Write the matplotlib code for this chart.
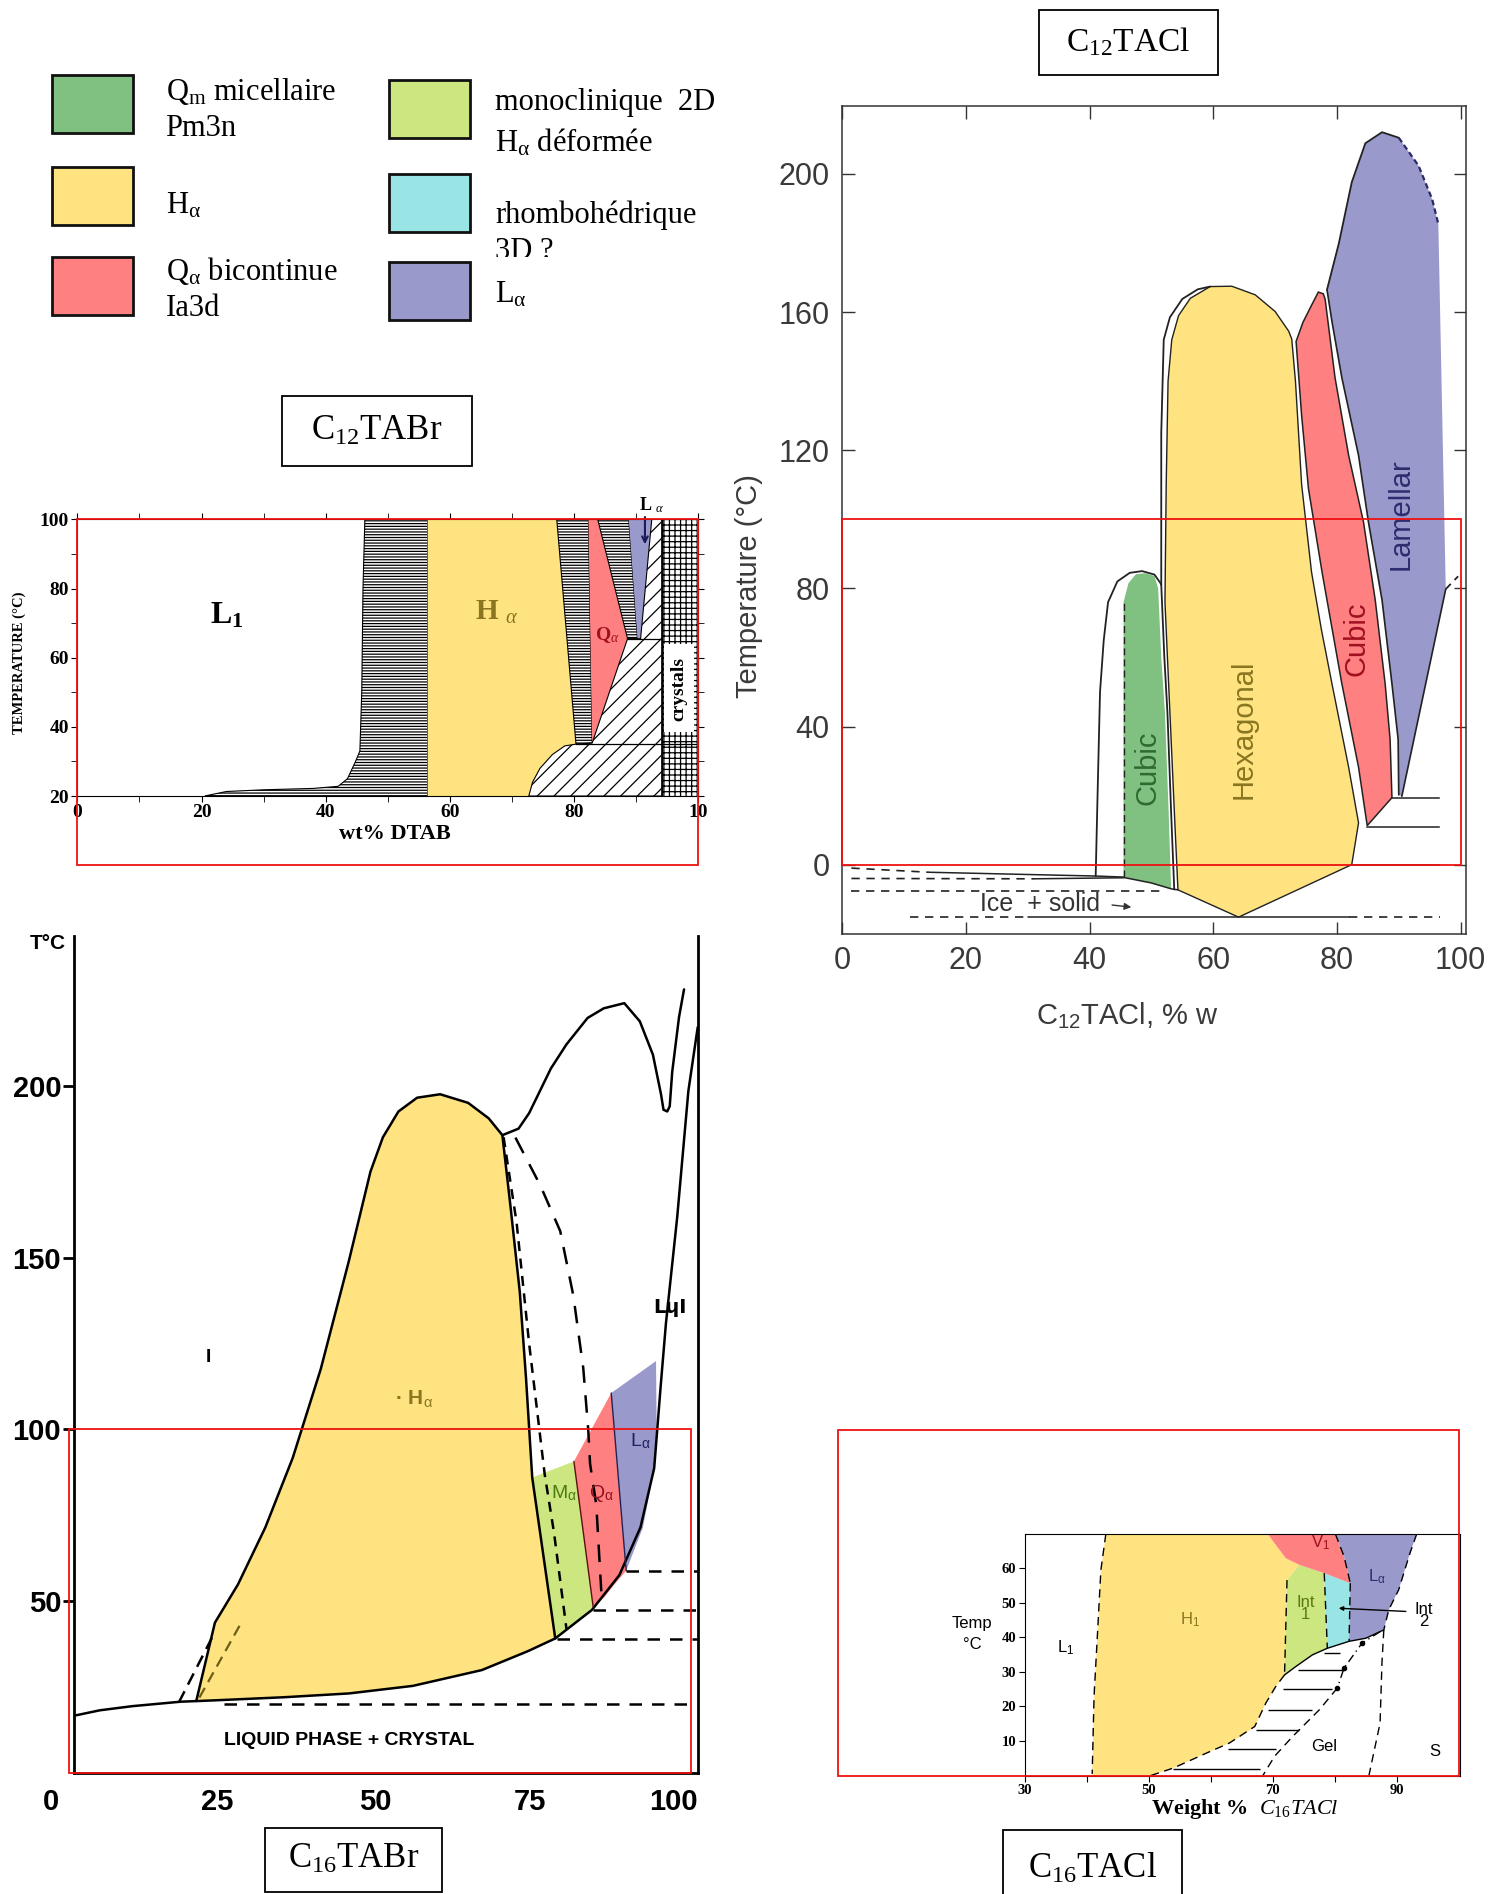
import matplotlib
matplotlib.use("Agg")
import matplotlib.pyplot as plt
from matplotlib.patches import Polygon, Rectangle
from matplotlib.transforms import Bbox, TransformedBbox

plt.rcParams["mathtext.fontset"] = "custom"
plt.rcParams["mathtext.rm"] = "Liberation Serif"
plt.rcParams["mathtext.it"] = "Liberation Serif:italic"
plt.rcParams["mathtext.bf"] = "Liberation Serif:bold"
plt.rcParams["mathtext.sf"] = "Liberation Sans"
plt.rcParams["hatch.linewidth"] = 0.9

# layout grid: the reference at its reduced size
W, H = 1244, 1568

GREEN, YELLOW, RED = "#80c080", "#ffe381", "#ff8080"
LGREEN, CYAN, PURPLE = "#cce680", "#99e4e4", "#9999cc"

# ---- legend ----
legend_colors = [GREEN, YELLOW, RED, LGREEN, CYAN, PURPLE]
legend_texts = [
    ["Q$_\\mathrm{m}$ micellaire", "Pm3n"],
    ["H$_\\mathrm{α}$"],
    ["Q$_\\mathrm{α}$ bicontinue", "Ia3d"],
    ["monoclinique  2D", "H$_\\mathrm{α}$ déformée"],
    ["rhombohédrique", "3D ?"],
    ["L$_\\mathrm{α}$"],
]

# ---- C12TABr (wt%, T) ----
br12_ticks = [0, 20, 40, 60, 80, 100]
br12_ticklabels = ["0", "20", "40", "60", "80", "10"]
br12_l1h = [(20.5, 20), (24, 21.3), (30, 21.8), (38, 22.2), (42, 22.8), (43.5, 25), (44.8, 30),
            (45.5, 33), (45.8, 50), (46, 80), (46.3, 100), (56.4, 100), (56.4, 20)]
br12_hex = [(56.4, 20), (72.7, 20), (73.3, 24), (74.5, 28), (76.5, 32), (78.5, 34.5), (80.3, 35),
            (77.2, 100), (56.4, 100)]
br12_hq = [(77.2, 100), (82.3, 100), (82.9, 35.3), (80.3, 35)]
br12_cub = [(82.3, 100), (83.8, 100), (88.6, 65.5), (82.9, 35.3)]
br12_ql = [(83.8, 100), (88.8, 100), (90.2, 65.5), (88.6, 65.5)]
br12_lam = [(88.8, 100), (92.5, 100), (90.7, 65.5), (90.2, 65.5)]
br12_diag = [(72.7, 20), (94.1, 20), (94.1, 100), (92.5, 100), (90.7, 65.5), (88.6, 65.5),
             (82.9, 35.3), (80.3, 35), (78.5, 34.5), (76.5, 32), (74.5, 28), (73.3, 24)]
br12_cryst = [(94.1, 20), (100, 20), (100, 100), (94.1, 100)]
br12_hlines = [(35, 80.3, 100), (65.5, 88.6, 94.1)]

# ---- C12TACl ----
cl12_l1 = [(41, -3.3), (41.3, 20), (41.7, 50), (42.3, 65), (43, 76), (44.5, 82), (46.5, 84.5),
           (48.5, 85), (50.5, 84), (51.6, 81.2)]
cl12_qm = [(45.5, -3.6), (45.5, 76), (46.3, 81.5), (47.5, 84.1), (49, 84.4), (50.5, 83.6),
           (51.1, 80), (51.6, 60), (52.2, 44), (52.8, 15), (53.2, -7), (50, -5.4)]
cl12_qm_edge = [(51.6, 81), (52.1, 60), (52.6, 44), (53.2, 15), (53.7, -7.2)]
cl12_outer = [(51.6, 81), (51.6, 125), (52.0, 152), (53.0, 158.5), (55.0, 163.8), (57.5, 166.6),
              (59.5, 167.4)]
cl12_hex = [(54.3, -7.3), (53.8, 12), (53, 44), (52.2, 76), (52.4, 110), (52.7, 140),
            (53.3, 152), (54.4, 159), (56.3, 164), (59.5, 167.4), (63, 167.5), (66.8, 165),
            (70, 160.2), (72.2, 154.5), (72.7, 152.2), (73.3, 140), (74.3, 110), (75.9, 84.7),
            (77.5, 68), (79.2, 52.4), (81.9, 28.2), (83.5, 12.1), (82.4, 0), (64.1, -15.2)]
cl12_cub = [(73.4, 151.5), (74.5, 157), (75.9, 162), (77, 165.8), (77.8, 165.3), (78.1, 163.7),
            (79.7, 141), (81.9, 118.5), (84.3, 99.2), (86.2, 76.6), (87.8, 52.4), (88.6, 36.3),
            (88.9, 19.4), (84.9, 11.3), (83.5, 28.2), (80.8, 52.4), (77.6, 84.7), (75.4, 108.9),
            (74.3, 130)]
cl12_lam = [(78.4, 166.5), (80.3, 179.8), (82.4, 197.6), (84.6, 208.9), (87.3, 212.1),
            (90, 210.5), (93.2, 202.4), (95.4, 192.7), (96.4, 185.5), (97.6, 79.8), (90.5, 19.8),
            (90.0, 20.2), (89.9, 36.3), (88.9, 52.4), (87.3, 76.6), (85.1, 99.2), (83.5, 118.5),
            (80.8, 141), (79.2, 157.3)]
cl12_right_dash = [(97.6, 79.8), (99.6, 83.5)]
cl12_hlines = [(19.2, 88.9, 96.5), (11.0, 84.9, 96.5), (0, 82.4, 96.5)]
cl12_solid_low = [[(14, -2.2), (41, -3.3), (45.5, -3.6)],
                  [(31, -4.1), (45.5, -3.8)],
                  [(45.5, -3.7), (50, -5.3), (53.2, -7), (54.3, -7.3)],
                  [(30, -15.2), (82, -15.2)]]
cl12_dash_low = [[(1.5, -1.0), (14, -2.2)],
                 [(1.5, -4.0), (31, -4.1)],
                 [(1.5, -7.6), (52, -7.6)],
                 [(11, -15.2), (30, -15.2)],
                 [(82, -15.2), (96.6, -15.2)]]

# ---- C16TABr ----
br16_hex = [(20.5, 21), (23.5, 43.8), (27.2, 54.9), (31.6, 71.5), (36, 91.7), (40.5, 117.5),
            (45, 148.8), (48.5, 175), (50.5, 185), (53, 192.5), (56, 196.5), (59.7, 197.5),
            (64.2, 195), (67.5, 190.5), (69.7, 185.6), (71, 165), (72.5, 140), (73.5, 115),
            (74.5, 86), (78.2, 39.2), (73.8, 35.5), (66.4, 30), (55.3, 25.4), (45, 23.2),
            (34.6, 22.1), (23.5, 21.2)]
br16_mono = [(74.5, 86), (81.2, 90.7), (84.3, 48.3), (82, 44.5), (80, 41.5), (78.2, 39.2)]
br16_cub = [(81.2, 90.7), (87.2, 110.6), (89.6, 58.9), (88, 55.5), (86, 51), (84.3, 48.3)]
br16_lam = [(87.2, 110.6), (94.4, 119.9), (94.5, 99.3), (94.1, 88.7), (92.3, 71.5), (89.6, 58.9)]
br16_solidus = [(0.8, 16.7), (5, 18.3), (10.2, 19.5), (18, 20.8), (23.5, 21.2), (34.6, 22.1),
                (45, 23.2), (55.3, 25.4), (66.4, 30), (73.8, 35.5), (78.2, 39.2), (84.1, 47.5),
                (88.5, 57.6), (91.9, 71.5), (94.1, 88.7), (95.2, 113.8), (96, 131), (97.8, 161.7),
                (99.6, 198.5), (101.1, 217)]
br16_upper = [(69.7, 185.6), (72.3, 187.5), (74, 192), (77.5, 205), (80, 212), (83.4, 219.7),
              (86, 222.5), (89.3, 224), (91.8, 218.7), (93.9, 209), (95.2, 197.5), (95.6, 193),
              (96.2, 192.5), (96.6, 194), (97, 204), (98.1, 220), (98.9, 228)]
br16_dash1 = [(69.9, 185), (72, 160), (74, 125), (76.5, 87), (78, 70), (80, 42)]
br16_dash2 = [(71.8, 184.9), (75.8, 171), (79, 157.7), (81.1, 139), (82.7, 117.9), (83.5, 100),
              (83.8, 90), (84.8, 78), (85.6, 52.9)]
br16_dash_left = [(17.7, 20.6), (23.3, 40.4)]
br16_dash_inner = [(21, 22), (27.8, 44)]
br16_hlines = [(58.9, 89.6, 101), (47.5, 84.3, 101), (39, 78.5, 101), (20, 25, 100.5)]
br16_yticks = [50, 100, 150, 200]
br16_xticklabels = ["0", "25", "50", "75", "100"]

# ---- C16TACl ----
cl16_hex = [(43.1, 69.8), (69.2, 69.8), (72.1, 62.8), (74.3, 60.9), (72.3, 56.5), (71.9, 29.1),
            (70.5, 25.8), (68.9, 21), (67.1, 14.2), (65, 11.5), (63, 9.4), (59.3, 6.5),
            (54, 2.2), (50.3, 0), (40.9, 0), (41.2, 22.9), (41.7, 39.2), (42.3, 59.4)]
cl16_int1 = [(74.3, 60.9), (78.3, 58.5), (78.8, 36.8), (76.4, 34.9), (73.7, 31.5), (71.9, 29.1),
             (72.3, 56.5)]
cl16_int2 = [(78.3, 58.5), (82.5, 55.6), (82.3, 38.8), (78.8, 36.8)]
cl16_v1 = [(69.2, 69.8), (80.1, 69.8), (81.5, 63.3), (82.5, 55.6), (78.3, 58.5), (74.3, 60.9),
           (72.1, 62.8)]
cl16_lam = [(80.1, 69.8), (93.2, 69.8), (92.1, 64.2), (90.3, 53.7), (88.7, 47.9), (87.9, 42.1),
            (85, 39.7), (82.3, 38.8), (82.5, 55.6), (81.5, 63.3)]
cl16_dashed = [
    [(43.1, 69.8), (42.3, 59.4), (41.7, 39.2), (41.2, 22.9), (40.9, 0.5)],
    [(80.1, 69.8), (81.5, 63.3), (82.5, 55.6)],
    [(78.3, 58.5), (78.8, 36.8)],
    [(82.5, 55.6), (82.3, 38.8)],
    [(72.3, 56.5), (71.9, 29.1)],
    [(93.2, 69.8), (92.1, 64.2), (90.3, 53.7), (88.7, 47.9), (87.9, 42.1)],
    [(71.9, 29.1), (70.5, 25.8), (68.9, 21), (67.1, 14.2), (63, 9.4), (59.3, 6.5), (54, 2.2),
     (50.3, 0)],
    [(87.9, 42.1), (87.6, 32.5), (87.3, 15.2), (85.5, 0)],
    [(80.4, 25.3), (77.5, 19), (73.2, 11.3), (70.3, 5.6), (68.4, 0)],
]
cl16_gel_top = [(71.9, 29.1), (73.7, 31.5), (76.4, 34.9), (78.8, 36.8), (82.3, 38.8), (85, 39.7),
                (87.9, 42.1)]
cl16_dashdot = [(87.3, 41.6), (84.4, 38.3), (81.5, 31.1), (80.4, 25.3)]
cl16_dots = [(84.4, 38.3), (81.5, 31.1), (80.4, 25.3)]
hatch_T = [35.4, 30.6, 25, 19, 13.3, 7.7, 1.9]
hatch_x0 = [78.3, 74, 71.6, 69.2, 67.3, 62.8, 54]
hatch_x1 = [80.9, 81.5, 79.6, 76.4, 74.3, 70.5, 67.9]


def make_axes(fig, left, top, right, bottom):
    return fig.add_axes([left / W, 1 - bottom / H, (right - left) / W, (bottom - top) / H])


def region(ax, pts, color, **kw):
    ax.add_patch(Polygon(pts, closed=True, facecolor=color, edgecolor=kw.pop("ec", "none"),
                         lw=kw.pop("lw", 1.0), **kw))


def curve(ax, pts, **kw):
    xs, ys = zip(*pts)
    ax.plot(xs, ys, solid_capstyle="round", **kw)


def red_frame(ax):
    ax.add_patch(Rectangle((0, 0), 100, 100, fill=False, ec="#ee1111", lw=1.3,
                           clip_on=False, zorder=20))


def title_box(fig, text, left, top, right, bottom, size=25):
    fig.add_artist(Rectangle((left / W, 1 - bottom / H), (right - left) / W, (bottom - top) / H,
                             transform=fig.transFigure, fill=False, ec="black", lw=1.3))
    fig.text((left + right) / 2 / W, 1 - (top + bottom) / 2 / H, text, ha="center",
             va="center", fontsize=size, family="Liberation Serif")


fig = plt.figure(figsize=(15.03, 18.94), dpi=100)

# ---------------- legend ----------------
swatches = [(43, 62), (43, 138), (43, 213), (322, 66), (322, 144), (322, 217)]
text_y = [[76, 106], [170], [224, 255], [85, 118], [178, 208], [244]]
for i, color in enumerate(legend_colors):
    sx, sy = swatches[i]
    fig.add_artist(Rectangle((sx / W, 1 - (sy + 48) / H), 67 / W, 48 / H,
                             transform=fig.transFigure, fc=color, ec="#111111", lw=2))
    tx = 137 if i < 3 else 410
    for line_text, ty in zip(legend_texts[i], text_y[i]):
        t = fig.text(tx / W, 1 - ty / H, line_text, ha="left", va="center", fontsize=22,
                     family="Liberation Serif")
        if line_text == "3D ?":
            t.set_clip_box(TransformedBbox(Bbox([[0, 1 - 213 / H], [1, 1]]), fig.transFigure))
            t.set_clip_on(True)

title_box(fig, "C$_\\mathrm{12}$TABr", 233, 328, 391, 386)
title_box(fig, "C$_\\mathrm{12}$TACl", 860, 8, 1008, 62, size=24)
title_box(fig, "C$_\\mathrm{16}$TABr", 219, 1513, 366, 1566)
title_box(fig, "C$_\\mathrm{16}$TACl", 830, 1515, 978, 1580)

# ---------------- C12TABr ----------------
ax1 = make_axes(fig, 64, 430, 578, 659)
ax1.set_xlim(0, 100)
ax1.set_ylim(20, 100)
region(ax1, br12_l1h, "white", ec="black", hatch="------", lw=0.8)
region(ax1, br12_hex, YELLOW)
region(ax1, br12_hq, "white", ec="black", hatch="------", lw=0.8)
region(ax1, br12_cub, RED)
region(ax1, br12_ql, "white", ec="black", hatch="------", lw=0.8)
region(ax1, br12_lam, PURPLE)
region(ax1, br12_diag, "white", ec="black", hatch="//", lw=0.8)
region(ax1, br12_cryst, "white", ec="black", hatch="+++", lw=0.8)
for T, x0, x1 in br12_hlines:
    ax1.plot([x0, x1], [T, T], color="black", lw=0.9)
ax1.add_patch(Rectangle((94.5, 38.5), 4.8, 25.5, fc="white", ec="none", zorder=3))
ax1.text(96.9, 51, "crystals", rotation=90, ha="center", va="center", fontsize=14,
         fontweight="bold", family="Liberation Serif", zorder=4)
ax1.text(24, 72, "L$_\\mathbf{1}$", fontsize=23, fontweight="bold", family="Liberation Serif",
         ha="center", va="center")
ax1.text(67.5, 73, "H $_{\\alpha}$", fontsize=21, fontweight="bold", family="Liberation Serif",
         ha="center", va="center", color="#8a7620")
ax1.text(85.3, 66.5, "Q$_{\\alpha}$", fontsize=14, fontweight="bold", family="Liberation Serif",
         ha="center", va="center", color="#a01020")
ax1.text(92.5, 104, "L $_{\\alpha}$", fontsize=13, fontweight="bold", family="Liberation Serif",
         ha="center", va="center", clip_on=False)
ax1.annotate("", xy=(91.4, 92), xytext=(91.4, 101.5), annotation_clip=False,
             arrowprops=dict(arrowstyle="->", color="#1a1a5a", lw=1.5))
ax1.set_xticks(br12_ticks, br12_ticklabels)
ax1.set_yticks([20, 40, 60, 80, 100])
ax1.set_xticks(range(10, 100, 20), minor=True)
ax1.set_yticks([30, 50, 70, 90], minor=True)
ax1.tick_params(which="both", direction="out", top=True, right=True, length=4, labelsize=14,
                pad=2)
plt.setp(ax1.get_xticklabels() + ax1.get_yticklabels(), fontweight="bold",
         family="Liberation Serif")
ax1.set_xlabel("wt% DTAB", fontsize=16, fontweight="bold", family="Liberation Serif")
ax1.xaxis.set_label_coords(0.512, -0.1)
ax1.set_ylabel("TEMPERATURE (°C)", fontsize=10.5, fontweight="bold", family="Liberation Serif")
ax1.yaxis.set_label_coords(-0.083, 0.48)
red_frame(ax1)

# ---------------- C12TACl ----------------
ax2 = make_axes(fig, 697, 88, 1213, 773)
ax2.set_xlim(0, 100.8)
ax2.set_ylim(-20, 219.6)
ink = "#222222"
region(ax2, cl12_qm, GREEN)
region(ax2, cl12_hex, YELLOW, ec=ink, lw=1.0)
region(ax2, cl12_cub, RED, ec=ink, lw=1.1)
region(ax2, cl12_lam, PURPLE)
curve(ax2, cl12_lam[:6], color=ink, lw=1.3)
curve(ax2, cl12_lam[5:9], color="#2a2a66", lw=1.6, ls=(0, (2.5, 1.5)))
curve(ax2, cl12_lam[9:11], color=ink, lw=1.2)
curve(ax2, cl12_lam[11:] + cl12_lam[:1], color=ink, lw=1.2)
curve(ax2, cl12_l1, color=ink, lw=1.3)
curve(ax2, cl12_qm_edge, color=ink, lw=1.3)
curve(ax2, cl12_outer, color=ink, lw=1.3)
curve(ax2, cl12_right_dash, color=ink, lw=1.3, ls=(0, (4, 3)))
for T, x0, x1 in cl12_hlines:
    ax2.plot([x0, x1], [T, T], color=ink, lw=1.1)
for pts in cl12_solid_low:
    curve(ax2, pts, color=ink, lw=1.1)
for pts in cl12_dash_low:
    curve(ax2, pts, color=ink, lw=1.2, ls=(0, (5, 4)))
ax2.plot([45.5, 45.5], [-3.6, 76], color=ink, lw=1.0, ls=(0, (5, 3)))
ax2.text(32, -11.3, "Ice  + solid", fontsize=18, ha="center", va="center",
         family="Liberation Sans", color="#333333")
ax2.annotate("", xy=(47.2, -12.4), xytext=(43.2, -11.6),
             arrowprops=dict(arrowstyle="-|>", color="#333333", lw=1.0, mutation_scale=10))
sans = dict(family="Liberation Sans", ha="center", va="center", rotation=90)
ax2.text(49.3, 28, "Cubic", fontsize=21, color="#2f6a2f", **sans)
ax2.text(64.9, 39.2, "Hexagonal", fontsize=21, color="#8a7620", **sans)
ax2.text(83.2, 65.3, "Cubic", fontsize=21, color="#a01020", **sans)
ax2.text(90.3, 101.6, "Lamellar", fontsize=21, color="#2c2c6e", **sans)
ax2.set_xticks(range(0, 101, 20))
ax2.set_yticks(range(0, 201, 40))
ax2.tick_params(direction="in", top=True, right=True, length=9, width=1.0, labelsize=22,
                labelcolor="#3a3a3a", color="#333333", pad=9)
plt.setp(ax2.get_xticklabels() + ax2.get_yticklabels(), family="Liberation Sans")
for sp in ax2.spines.values():
    sp.set_color("#333333")
    sp.set_linewidth(1.1)
ax2.set_xlabel("C$_{\\mathsf{12}}$TACl, % w", fontsize=21, family="Liberation Sans",
               color="#3a3a3a")
ax2.xaxis.set_label_coords(0.457, -0.081)
ax2.set_ylabel("Temperature (°C)", fontsize=21, family="Liberation Sans", color="#3a3a3a")
ax2.yaxis.set_label_coords(-0.127, 0.42)
red_frame(ax2)

# ---------------- C16TABr ----------------
ax3 = make_axes(fig, 61, 775, 578, 1468)
ax3.set_xlim(0.8, 101.2)
ax3.set_ylim(0, 243.5)
region(ax3, br16_hex, YELLOW)
region(ax3, br16_mono, LGREEN)
region(ax3, br16_cub, RED)
region(ax3, br16_lam, PURPLE)
curve(ax3, br16_hex[:20], color="black", lw=1.8)
curve(ax3, br16_solidus, color="black", lw=1.8)
curve(ax3, br16_upper, color="black", lw=1.8)
curve(ax3, br16_dash1, color="black", lw=1.8, ls=(0, (4, 3)))
curve(ax3, br16_dash2, color="black", lw=1.8, ls=(0, (7, 5)))
curve(ax3, br16_dash_left, color="black", lw=1.8, ls=(0, (5, 3)))
curve(ax3, br16_dash_inner, color="#6b5e18", lw=1.6, ls=(0, (5, 3)))
curve(ax3, br16_mono[1:3], color="#5a1010", lw=1.0)
curve(ax3, [br16_cub[1], br16_cub[2]], color="#222255", lw=1.0)
for T, x0, x1 in br16_hlines:
    ax3.plot([x0, x1], [T, T], color="black", lw=1.8, ls=(0, (5, 4)))
ax3.text(45, 9.5, "LIQUID PHASE + CRYSTAL", fontsize=14, fontweight="bold",
         family="Liberation Sans", ha="center", va="center")
ax3.text(55.5, 109, "· H$_\\mathsf{α}$", fontsize=15, fontweight="bold", color="#8a7620",
         family="Liberation Sans", ha="center", va="center")
ax3.text(22.4, 121, "I", fontsize=14, fontweight="bold", family="Liberation Sans",
         ha="center", va="center")
ax3.text(96.7, 135.6, "LɥI", fontsize=14, fontweight="bold", family="DejaVu Sans",
         ha="center", va="center")
ax3.text(79.6, 81.4, "M$_\\mathsf{α}$", fontsize=14, color="#4c7a10", family="Liberation Sans",
         ha="center", va="center")
ax3.text(85.6, 81.4, "Q$_\\mathsf{α}$", fontsize=14, color="#901020", family="Liberation Sans",
         ha="center", va="center")
ax3.text(91.8, 96.7, "L$_\\mathsf{α}$", fontsize=14, color="#202060", family="Liberation Sans",
         ha="center", va="center")
ax3.text(-3.3, 241.5, "T°C", fontsize=15, fontweight="bold", family="Liberation Sans",
         ha="center", va="center", clip_on=False)
# the scanned axis numbers sit slightly left of their true positions
for label, lx in zip(br16_xticklabels, [-2.9, 23.8, 49.3, 74.2, 97.2]):
    ax3.text(lx, -8.5, label, fontsize=21, fontweight="bold", family="Liberation Sans",
             ha="center", va="center", clip_on=False)
ax3.spines["top"].set_visible(False)
for sp in ("left", "right", "bottom"):
    ax3.spines[sp].set_linewidth(2.0)
ax3.set_yticks(br16_yticks)
ax3.set_xticks([])
ax3.tick_params(axis="y", direction="out", length=8, width=2, labelsize=21, pad=1)
plt.setp(ax3.get_yticklabels(), fontweight="bold", family="Liberation Sans")
red_frame(ax3)

# ---------------- C16TACl ----------------
ax4 = make_axes(fig, 848, 1270, 1208, 1470)
ax4.set_xlim(30, 100.1)
ax4.set_ylim(0, 69.8)
region(ax4, cl16_hex, YELLOW)
region(ax4, cl16_int1, LGREEN)
region(ax4, cl16_int2, CYAN)
region(ax4, cl16_v1, RED)
region(ax4, cl16_lam, PURPLE)
for pts in cl16_dashed:
    curve(ax4, pts, color="black", lw=1.0, ls=(0, (6, 4)))
curve(ax4, cl16_gel_top, color="black", lw=1.0)
curve(ax4, cl16_dashdot, color="black", lw=1.0, ls=(0, (6, 3, 1, 3)))
dx, dy = zip(*cl16_dots)
ax4.plot(dx, dy, "o", color="black", ms=3)
ax4.hlines(hatch_T, hatch_x0, hatch_x1, color="black", lw=1.0)
ax4.annotate("", xy=(80.2, 48.4), xytext=(91.9, 47.4),
             arrowprops=dict(arrowstyle="-|>", color="black", lw=1.0, mutation_scale=6))
txt = dict(family="Liberation Sans", ha="center", va="center", fontsize=12)
ax4.text(36.7, 36.8, "L$_\\mathsf{1}$", **txt)
ax4.text(56.7, 45, "H$_\\mathsf{1}$", color="#8a7620", **txt)
ax4.text(75.3, 48.4, "Int\n1", color="#5a7a10", linespacing=0.75, **txt)
ax4.text(94.3, 46.4, "Int\n2", linespacing=0.75, **txt)
ax4.text(86.8, 57.5, "L$_\\mathsf{α}$", color="#2c2c6e", **txt)
ax4.text(77.7, 67.2, "V$_\\mathsf{1}$", color="#a01020", **txt)
ax4.text(78.3, 8.5, "Gel", **txt)
ax4.text(96.1, 7, "S", **txt)
ax4.text(21.6, 44, "Temp", clip_on=False, **txt)
ax4.text(21.6, 38, "°C", clip_on=False, **txt)
ax4.set_yticks(range(10, 61, 10))
ax4.set_xticks(range(30, 100, 10))
ax4.set_xticklabels(["30", "", "50", "", "70", "", "90"])
ax4.tick_params(direction="out", length=4, labelsize=10.5, pad=2)
plt.setp(ax4.get_xticklabels() + ax4.get_yticklabels(), fontweight="bold",
         family="Liberation Serif")
ax4.set_xlabel("Weight %  $C_{16}TACl$", fontsize=16, fontweight="bold",
               family="Liberation Serif")
ax4.xaxis.set_label_coords(0.506, -0.09)
red_frame(ax4)

fig.savefig("out.png", dpi=100)
